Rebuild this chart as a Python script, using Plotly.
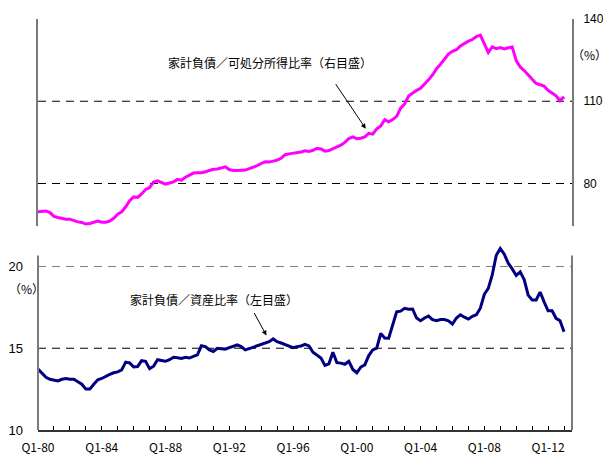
import plotly.graph_objects as go

# Quarterly data, 1980Q1 .. 2013Q1
quarters = [f"{y}Q{q}" for y in range(1980, 2014) for q in range(1, 5)][:133]
x_years = [int(s[:4]) + (int(s[-1]) - 1) / 4 for s in quarters]

debt_to_income = [
    69.7, 69.9, 70.0, 69.4,
    68.0, 67.6, 67.3, 67.0,
    67.0, 66.4, 66.0, 65.8,
    65.2, 65.4, 65.8, 66.3,
    65.9, 65.9, 66.3, 67.3,
    68.8, 69.7, 71.5, 73.7,
    75.1, 74.9, 76.2, 77.8,
    78.5, 80.5, 81.0, 80.3,
    79.8, 80.2, 80.6, 81.5,
    81.2, 82.3, 83.0, 83.8,
    83.9, 83.9, 84.3, 84.7,
    85.2, 85.3, 85.7, 86.1,
    85.1, 84.7, 84.7, 84.8,
    84.9, 85.4, 85.9, 86.5,
    87.3, 87.9, 87.8, 88.1,
    88.5, 89.2, 90.5, 90.8,
    91.0, 91.2, 91.5, 91.9,
    91.7, 92.1, 92.8, 92.6,
    91.8, 92.0, 92.6, 93.4,
    94.0, 95.0, 96.4, 97.0,
    96.3, 96.5, 97.0, 98.3,
    98.0, 99.9, 101.0, 103.3,
    102.5, 103.3, 104.5, 107.5,
    109.0, 111.9, 113.0, 114.0,
    114.7, 116.2, 117.8, 119.6,
    121.9, 123.5, 125.5, 127.2,
    128.2, 128.8, 130.2, 131.2,
    131.9, 132.5, 133.6, 134.1,
    131.2, 127.8, 129.8, 129.2,
    129.6, 129.1, 129.5, 129.8,
    124.8, 122.5, 121.2, 119.4,
    118.0, 116.5, 115.9, 115.5,
    114.0, 113.1, 112.0, 110.2,
    111.6,
]

debt_to_assets = [
    13.72, 13.45, 13.22, 13.10,
    13.05, 13.00, 13.10, 13.15,
    13.11, 13.11, 12.95, 12.80,
    12.50, 12.50, 12.80, 13.07,
    13.15, 13.30, 13.40, 13.50,
    13.55, 13.68, 14.15, 14.10,
    13.85, 13.88, 14.24, 14.20,
    13.75, 13.90, 14.30, 14.25,
    14.20, 14.30, 14.45, 14.42,
    14.38, 14.45, 14.40, 14.50,
    14.60, 15.15, 15.10, 14.90,
    14.80, 15.00, 14.95, 14.94,
    15.04, 15.12, 15.20, 15.10,
    14.90, 14.98, 15.06, 15.12,
    15.20, 15.30, 15.40, 15.57,
    15.40, 15.32, 15.24, 15.12,
    15.04, 15.10, 15.14, 15.24,
    15.14, 14.75, 14.55, 14.40,
    13.95, 14.05, 14.76, 14.12,
    14.09, 14.02, 14.20, 13.70,
    13.50, 13.85, 13.98, 14.55,
    14.90, 15.00, 15.90, 15.62,
    15.61, 16.50, 17.23, 17.27,
    17.44, 17.38, 17.40, 16.85,
    16.68, 16.85, 16.97, 16.75,
    16.68, 16.75, 16.75, 16.68,
    16.48, 16.85, 17.05, 16.90,
    16.78, 16.95, 17.05, 17.45,
    18.30, 18.66, 19.50, 20.69,
    21.10, 20.75, 20.20, 19.85,
    19.45, 19.67, 19.20, 18.25,
    17.95, 17.95, 18.43, 17.84,
    17.29, 17.29, 16.83, 16.68,
    16.01,
]

tick_years = list(range(1980, 2014))
tick_labels = [f"Q1-{str(y)[2:]}" if (y - 1980) % 4 == 0 else "" for y in tick_years]
top_ticks = [80, 110, 140]
bottom_ticks = [10, 15, 20]

FONT = "Noto Sans CJK JP, Noto Sans, sans-serif"
NUM_FONT = "Liberation Sans, Arial, sans-serif"
AXIS_GRAY = "#7a7a7a"

fig = go.Figure()
fig.add_trace(go.Scatter(x=x_years, y=debt_to_income, mode="lines",
                         line=dict(color="#FF00FF", width=3), xaxis="x2", yaxis="y2",
                         name="家計負債/可処分所得比率"))
fig.add_trace(go.Scatter(x=x_years, y=debt_to_assets, mode="lines",
                         line=dict(color="#000080", width=3), xaxis="x", yaxis="y",
                         name="家計負債/資産比率"))

xr = [1980, 2013.5]
fig.update_layout(
    width=603, height=455,
    margin=dict(l=38, r=31, t=18.5, b=25, pad=0),
    paper_bgcolor="white", plot_bgcolor="white",
    showlegend=False,
    font=dict(family=FONT, size=12, color="#000"),
    xaxis=dict(domain=[0, 1], range=xr, anchor="y", automargin=False,
               tickvals=tick_years, ticktext=tick_labels,
               ticks="inside", ticklen=4, tickcolor="#000", tickwidth=1,
               showline=True, linecolor="#333", linewidth=2,
               showgrid=False, zeroline=False, ticklabelstandoff=6,
               tickfont=dict(size=12)),
    yaxis=dict(domain=[0, 0.4496], range=[10, 21.3], anchor="x", automargin=False,
               tickvals=bottom_ticks, ticks="", showline=False,
               showgrid=False, zeroline=False,
               ticklabelstandoff=14, tickfont=dict(size=13, family=NUM_FONT)),
    xaxis2=dict(domain=[0, 1], range=xr, anchor="y2", visible=False),
    yaxis2=dict(domain=[0.4957, 1], range=[64.4, 140], anchor="x2", side="right",
                automargin=False,
                tickvals=top_ticks, ticks="", showline=True, mirror=True,
                linecolor=AXIS_GRAY, linewidth=2, showgrid=False, zeroline=False,
                ticklabelstandoff=7, tickfont=dict(size=12, family=NUM_FONT)),
)

# bottom panel side lines (stop at the panel top, the line itself may overshoot)
for xd in [0, 1]:
    fig.add_shape(type="line", xref="x domain", yref="y", x0=xd, x1=xd, y0=10, y1=20.67,
                  line=dict(color=AXIS_GRAY, width=2), layer="above")

# dashed reference lines
for yv in [80, 110]:
    fig.add_shape(type="line", xref="x2 domain", yref="y2", x0=0, x1=1, y0=yv, y1=yv,
                  line=dict(color="#000", width=1, dash="8px,6px"), layer="below")
fig.add_shape(type="line", xref="x domain", yref="y", x0=0, x1=1, y0=15, y1=15,
              line=dict(color="#000", width=1, dash="8px,6px"), layer="below")
fig.add_shape(type="line", xref="x domain", yref="y", x0=0, x1=1, y0=20, y1=20,
              line=dict(color="#808080", width=1, dash="8px,6px"), layer="below")

# labels and arrows
fig.add_annotation(x=1994.55, y=124.2, xref="x2", yref="y2",
                   text="家計負債／可処分所得比率（右目盛）", showarrow=False,
                   font=dict(size=12))
fig.add_annotation(x=2000.56, y=100.0, xref="x2", yref="y2", text="",
                   showarrow=True, arrowhead=2, arrowsize=1, arrowwidth=1,
                   arrowcolor="#000", ax=-31, ay=-46)
fig.add_annotation(x=1991.04, y=17.95, xref="x", yref="y",
                   text="家計負債／資産比率（左目盛）", showarrow=False,
                   font=dict(size=12))
fig.add_annotation(x=1994.33, y=15.78, xref="x", yref="y", text="",
                   showarrow=True, arrowhead=2, arrowsize=1, arrowwidth=1,
                   arrowcolor="#000", ax=-13, ay=-24)
fig.add_annotation(x=1, y=127.0, xref="x2 domain", yref="y2", xanchor="left",
                   text="（%）", showarrow=False, xshift=-1, borderpad=0,
                   font=dict(size=12))
fig.add_annotation(x=0, y=18.65, xref="x domain", yref="y", xanchor="right",
                   text="（%）", showarrow=False, xshift=7, borderpad=0,
                   font=dict(size=12))

fig.write_html(
    "out.html",
    config={"displayModeBar": False},
    post_script="document.body.style.margin='0';document.body.style.overflow='hidden';",
)
